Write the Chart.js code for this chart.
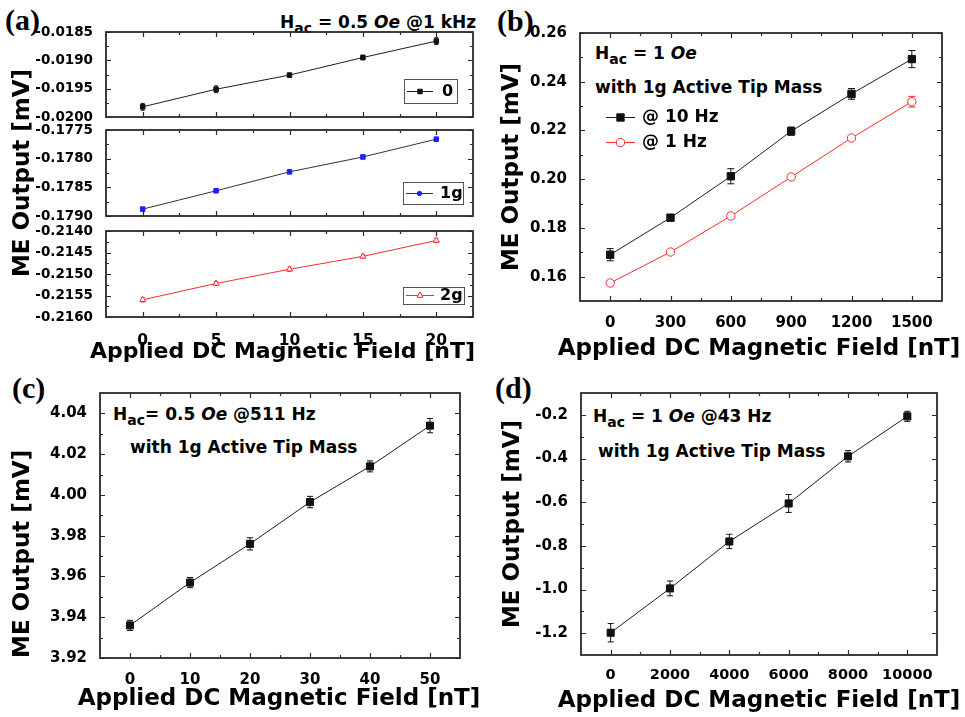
<!DOCTYPE html>
<html><head><meta charset="utf-8">
<script src="https://cdn.jsdelivr.net/npm/chart.js@4.4.1/dist/chart.umd.min.js"></script>
<style>
html,body{margin:0;padding:0;background:#fff;}
body{width:965px;height:717px;overflow:hidden;position:relative;font-family:"DejaVu Sans",sans-serif;}
canvas{position:absolute;left:0;top:0;}
.t{position:absolute;font-weight:bold;font-size:17px;line-height:1;white-space:nowrap;color:#000;}
.t sub{font-size:14px;vertical-align:-5px;line-height:0;}
.p{position:absolute;font-family:"Liberation Serif",serif;font-weight:bold;font-size:30px;line-height:1;color:#000;}
</style></head><body>
<div class="p" style="left:5px;top:5px">(a)</div>
<div class="p" style="left:497px;top:6px">(b)</div>
<div class="p" style="left:12px;top:373px">(c)</div>
<div class="p" style="left:495px;top:373px">(d)</div>
<div class="t" style="left:280px;top:14px">H<sub>ac</sub> = 0.5 <i>Oe</i> @1 kHz</div>
<div class="t" style="left:595px;top:45px">H<sub>ac</sub> = 1 <i>Oe</i></div>
<div class="t" style="left:595px;top:79px">with 1g Active Tip Mass</div>
<div class="t" style="left:113px;top:406px">H<sub>ac</sub>= 0.5 <i>Oe</i> @511 Hz</div>
<div class="t" style="left:130px;top:439px">with 1g Active Tip Mass</div>
<div class="t" style="left:593px;top:408px">H<sub>ac</sub> = 1 <i>Oe</i> @43 Hz</div>
<div class="t" style="left:598px;top:443px">with 1g Active Tip Mass</div>
<script>
// ---------- data ----------
const xA = [0, 5, 10, 15, 20];
const yA0 = [-0.01982, -0.01951, -0.01926, -0.01895, -0.01866];
const errA0 = [0.00006, 0.00006, 0.00003, 0.00004, 0.00006];
const yA1 = [-0.17888, -0.17856, -0.17823, -0.17797, -0.17766];
const errA1 = [0.00003, 0.00003, 0.00003, 0.00003, 0.00003];
const yA2 = [-0.21560, -0.21522, -0.21489, -0.21459, -0.21422];
const errA2 = [0.00005, 0.00005, 0.00005, 0.00004, 0.00005];

const xB = [0, 300, 600, 900, 1200, 1500];
const yB10 = [0.1690, 0.1842, 0.2012, 0.2197, 0.2350, 0.2493];
const errB10 = [0.0025, 0.0012, 0.0031, 0.0017, 0.0022, 0.0035];
const yB1 = [0.1574, 0.1701, 0.1849, 0.2009, 0.2169, 0.2318];
const errB1 = [0.0008, 0.0008, 0.0008, 0.0008, 0.0008, 0.0022];

const xC = [0, 10, 20, 30, 40, 50];
const yC = [3.936, 3.957, 3.976, 3.9965, 4.014, 4.034];
const errC = [0.0025, 0.0025, 0.003, 0.0028, 0.0027, 0.0035];

const xD = [0, 2000, 4000, 6000, 8000, 10000];
const yD = [-1.198, -0.995, -0.780, -0.606, -0.390, -0.207];
const errD = [0.042, 0.034, 0.033, 0.041, 0.026, 0.023];

// tick labels
const xTicksA = [0, 5, 10, 15, 20];
const yTicksA0 = [-0.0200, -0.0195, -0.0190, -0.0185];
const yTicksA1 = [-0.1790, -0.1785, -0.1780, -0.1775];
const yTicksA2 = [-0.2160, -0.2155, -0.2150, -0.2145, -0.2140];
const xTicksB = [0, 300, 600, 900, 1200, 1500];
const yTicksB = [0.16, 0.18, 0.20, 0.22, 0.24, 0.26];
const xTicksC = [0, 10, 20, 30, 40, 50];
const yTicksC = [3.92, 3.94, 3.96, 3.98, 4.00, 4.02, 4.04];
const xTicksD = [0, 2000, 4000, 6000, 8000, 10000];
const yTicksD = [-1.2, -1.0, -0.8, -0.6, -0.4, -0.2];

const legendA0 = ['0'];
const legendA1 = ['1g'];
const legendA2 = ['2g'];
const legendB = ['@ 10 Hz', '@ 1 Hz'];
const xTitle = 'Applied DC Magnetic Field [nT]';
const yTitle = 'ME Output [mV]';

// ---------- helpers ----------
const FONT = 'DejaVu Sans';
const BLACK = '#1e1e1e', RED = '#ff2a2a', BLUE = '#1e1eff';

function pts(xs, ys) { return xs.map((x, i) => ({ x: x, y: ys[i] })); }

function drawMarker(ctx, style, x, y, r, fill, stroke) {
  ctx.save();
  ctx.fillStyle = fill; ctx.strokeStyle = stroke; ctx.lineWidth = 1;
  ctx.beginPath();
  if (style === 'rect') {
    const s = r * Math.SQRT1_2;
    ctx.rect(x - s, y - s, 2 * s, 2 * s);
  } else if (style === 'triangle') {
    ctx.moveTo(x, y - r);
    ctx.lineTo(x + r * 0.866, y + r * 0.5);
    ctx.lineTo(x - r * 0.866, y + r * 0.5);
    ctx.closePath();
  } else {
    ctx.arc(x, y, r, 0, Math.PI * 2);
  }
  ctx.fill(); ctx.stroke();
  ctx.restore();
}

const errorBarPlugin = {
  id: 'errorBars',
  beforeDatasetsDraw(chart) {
    const ctx = chart.ctx, ys = chart.scales.y;
    chart.data.datasets.forEach((ds, i) => {
      if (!ds.errors) return;
      const meta = chart.getDatasetMeta(i);
      const c = ds.capHalf || 3;
      ctx.save();
      ctx.strokeStyle = ds.pointBorderColor; ctx.lineWidth = 1;
      ctx.beginPath();
      meta.data.forEach((pt, j) => {
        const v = ds.data[j].y, e = ds.errors[j];
        const y1 = ys.getPixelForValue(v + e), y2 = ys.getPixelForValue(v - e);
        const x = pt.x;
        ctx.moveTo(x, y1); ctx.lineTo(x, y2);
        ctx.moveTo(x - c, y1); ctx.lineTo(x + c, y1);
        ctx.moveTo(x - c, y2); ctx.lineTo(x + c, y2);
      });
      ctx.stroke();
      ctx.restore();
    });
  }
};

function minorVals(scale) {
  const t = scale.ticks.map(o => o.value);
  const step = t[1] - t[0];
  const out = [];
  for (let k = -1; k < t.length; k++) {
    const v = t[0] + step * (k + 0.5);
    if (v > scale.min + 1e-12 && v < scale.max - 1e-12) out.push(v);
  }
  return out;
}

const framePlugin = {
  id: 'frame',
  afterDraw(chart) {
    const ctx = chart.ctx, ca = chart.chartArea;
    const xs = chart.scales.x, ys = chart.scales.y;
    ctx.save();
    ctx.strokeStyle = '#2a2a2a';
    ctx.lineWidth = 1.2;
    ctx.beginPath();
    const maj = 5, mn = 3;
    xs.ticks.forEach(t => {
      const p = Math.round(xs.getPixelForValue(t.value)) + 0.5;
      ctx.moveTo(p, ca.bottom); ctx.lineTo(p, ca.bottom - maj);
      ctx.moveTo(p, ca.top); ctx.lineTo(p, ca.top + maj);
    });
    minorVals(xs).forEach(v => {
      const p = Math.round(xs.getPixelForValue(v)) + 0.5;
      ctx.moveTo(p, ca.bottom); ctx.lineTo(p, ca.bottom - mn);
      ctx.moveTo(p, ca.top); ctx.lineTo(p, ca.top + mn);
    });
    ys.ticks.forEach(t => {
      const p = Math.round(ys.getPixelForValue(t.value)) + 0.5;
      ctx.moveTo(ca.left, p); ctx.lineTo(ca.left + maj, p);
      ctx.moveTo(ca.right, p); ctx.lineTo(ca.right - maj, p);
    });
    minorVals(ys).forEach(v => {
      const p = Math.round(ys.getPixelForValue(v)) + 0.5;
      ctx.moveTo(ca.left, p); ctx.lineTo(ca.left + mn, p);
      ctx.moveTo(ca.right, p); ctx.lineTo(ca.right - mn, p);
    });
    ctx.stroke();
    ctx.lineWidth = 1.8;
    ctx.strokeRect(ca.left, ca.top, ca.right - ca.left, ca.bottom - ca.top);
    ctx.restore();
  }
};

// x-axis title drawn without the width limit Chart.js applies to horizontal titles
const xTitlePlugin = {
  id: 'xTitleFree',
  afterDraw(chart, args, opts) {
    if (!opts || !opts.text) return;
    const ctx = chart.ctx, ca = chart.chartArea;
    ctx.save();
    ctx.fillStyle = '#000';
    ctx.font = 'bold ' + opts.size + 'px "' + FONT + '"';
    ctx.textAlign = 'center'; ctx.textBaseline = 'middle';
    ctx.fillText(opts.text, (ca.left + ca.right) / 2 + (opts.dx || 0), opts.y);
    ctx.restore();
  }
};

const legendPlugin = {
  id: 'boxLegend',
  afterDraw(chart, args, opts) {
    if (!opts || !opts.items) return;
    const ctx = chart.ctx;
    ctx.save();
    if (opts.box) {
      ctx.strokeStyle = '#555'; ctx.lineWidth = 1;
      ctx.strokeRect(opts.box[0] + 0.5, opts.box[1] + 0.5, opts.box[2], opts.box[3]);
    }
    opts.items.forEach(it => {
      const ds = chart.data.datasets[it.ds];
      ctx.strokeStyle = ds.borderColor; ctx.lineWidth = 1;
      ctx.beginPath(); ctx.moveTo(it.x0, it.y + 0.5); ctx.lineTo(it.x1, it.y + 0.5); ctx.stroke();
      drawMarker(ctx, it.style || ds.pointStyle, (it.x0 + it.x1) / 2, it.y + 0.5,
        it.r || ds.pointRadius, ds.pointBackgroundColor, ds.pointBorderColor);
      ctx.fillStyle = '#000';
      ctx.font = 'bold ' + opts.size + 'px "' + FONT + '"';
      ctx.textBaseline = 'middle'; ctx.textAlign = 'left';
      ctx.fillText(it.text, it.tx, it.y + 1);
    });
    ctx.restore();
  }
};

// area: [left, top, right, bottom]; yTitleCX / xTitleCY optional
function makeChart(o) {
  const cv = document.createElement('canvas');
  cv.width = 965; cv.height = 717;
  document.body.appendChild(cv);
  const TY = 23, TX = o.xTitleSize || 23;
  const [L, T, R, B] = o.area;
  const padLeft = o.yTitleCX ? o.yTitleCX - TY / 2 : L - 90;
  const wY = L - padLeft;
  const hX = o.xTitleCY ? o.xTitleCY + TX / 2 - B : 0;
  const padBottom = 717 - B - hX;
  return new Chart(cv.getContext('2d'), {
    type: 'scatter',
    data: { datasets: o.datasets },
    plugins: [errorBarPlugin, framePlugin, legendPlugin, xTitlePlugin],
    options: {
      responsive: false, animation: false,
      layout: { padding: { left: padLeft, right: 965 - R, top: T, bottom: padBottom } },
      plugins: {
        legend: { display: false }, tooltip: { enabled: false }, boxLegend: o.legend || {},
        xTitleFree: o.xTitleCY ? { text: xTitle, size: TX, y: o.xTitleCY, dx: o.xTitleDX || 0 } : {}
      },
      scales: {
        x: {
          type: 'linear', position: 'bottom', min: o.xr[0], max: o.xr[1],
          afterBuildTicks: s => { s.ticks = o.xt.map(v => ({ value: v })); },
          afterFit: s => { s.height = hX; },
          grid: { display: false }, border: { display: false },
          ticks: { display: !!o.xLabels, padding: o.xPad || 5, color: '#000', autoSkip: false, maxRotation: 0,
            font: { family: FONT, weight: 'bold', size: o.xFont || 15 }, callback: v => String(v) },
          title: { display: false }
        },
        y: {
          type: 'linear', position: 'left', min: o.yr[0], max: o.yr[1],
          afterBuildTicks: s => { s.ticks = o.yt.map(v => ({ value: v })); },
          afterFit: s => { s.width = wY; },
          grid: { display: false }, border: { display: false },
          ticks: { padding: 5, color: '#000', autoSkip: false,
            font: { family: FONT, weight: 'bold', size: o.yFont || 15 }, callback: v => Number(v).toFixed(o.yDec) },
          title: { display: !!o.yTitleCX, text: yTitle, color: '#000', padding: 0, align: o.yAlign || 'center',
            font: { family: FONT, weight: 'bold', size: TY, lineHeight: 1 } }
        }
      }
    }
  });
}

// ---------- panel (a) ----------
makeChart({
  area: [106, 32, 473, 117], xr: [-2.5, 22.5], yr: [-0.0200, -0.0185], xt: xTicksA, yt: yTicksA0,
  yDec: 4, yFont: 13.5,
  datasets: [{ data: pts(xA, yA0), errors: errA0, capHalf: 2, showLine: true, borderColor: BLACK, borderWidth: 1,
    pointStyle: 'rect', pointRadius: 3.2, pointBackgroundColor: '#111', pointBorderColor: '#111' }],
  legend: { box: [404, 79, 53, 24], size: 16,
    items: [{ ds: 0, x0: 407, x1: 433, y: 91, tx: 442, text: legendA0[0] }] }
});
makeChart({
  area: [106, 130, 473, 216], xr: [-2.5, 22.5], yr: [-0.1790, -0.1775], xt: xTicksA, yt: yTicksA1,
  yDec: 4, yFont: 13.5, yTitleCX: 23,
  datasets: [{ data: pts(xA, yA1), errors: errA1, capHalf: 2, showLine: true, borderColor: '#333', borderWidth: 1,
    pointStyle: 'rect', pointRadius: 3.2, pointBackgroundColor: BLUE, pointBorderColor: BLUE }],
  legend: { box: [403, 182, 60, 22], size: 16,
    items: [{ ds: 0, x0: 406, x1: 433, y: 193, tx: 440, text: legendA1[0], style: 'circle', r: 2.2 }] }
});
makeChart({
  area: [106, 231, 473, 317], xr: [-2.5, 22.5], yr: [-0.2160, -0.2140], xt: xTicksA, yt: yTicksA2,
  yDec: 4, yFont: 13.5, xLabels: true, xFont: 15.5, xPad: 7, xTitleCY: 352, xTitleSize: 22, xTitleDX: -7,
  datasets: [{ data: pts(xA, yA2), errors: errA2, capHalf: 2, showLine: true, borderColor: RED, borderWidth: 1,
    pointStyle: 'triangle', pointRadius: 3.5, pointBackgroundColor: '#fff', pointBorderColor: RED }],
  legend: { box: [403, 287, 61, 17], size: 16,
    items: [{ ds: 0, x0: 406, x1: 434, y: 295, tx: 440, text: legendA2[0] }] }
});

// ---------- panel (b) ----------
makeChart({
  area: [580, 33, 942, 301], xr: [-150, 1650], yr: [0.15, 0.26], xt: xTicksB, yt: yTicksB,
  yDec: 2, xLabels: true, yTitleCX: 512, xTitleCY: 349, xTitleDX: -2,
  datasets: [
    { data: pts(xB, yB10), errors: errB10, capHalf: 3.5, showLine: true, borderColor: BLACK, borderWidth: 1,
      pointStyle: 'rect', pointRadius: 5.2, pointBackgroundColor: '#111', pointBorderColor: '#111' },
    { data: pts(xB, yB1), errors: errB1, capHalf: 3.5, showLine: true, borderColor: RED, borderWidth: 1,
      pointStyle: 'circle', pointRadius: 4.2, pointBackgroundColor: '#fff', pointBorderColor: RED }
  ],
  legend: { size: 17,
    items: [{ ds: 0, x0: 606, x1: 635, y: 117, tx: 642, text: legendB[0] },
            { ds: 1, x0: 606, x1: 635, y: 142, tx: 642, text: legendB[1] }] }
});

// ---------- panel (c) ----------
makeChart({
  area: [100, 393, 460, 658], xr: [-5, 55], yr: [3.92, 4.05], xt: xTicksC, yt: yTicksC,
  yDec: 2, xLabels: true, yTitleCX: 23.5, xTitleCY: 699, xTitleDX: -1, yAlign: 'start',
  datasets: [{ data: pts(xC, yC), errors: errC, capHalf: 3, showLine: true, borderColor: BLACK, borderWidth: 1,
    pointStyle: 'rect', pointRadius: 5, pointBackgroundColor: '#111', pointBorderColor: '#111' }]
});

// ---------- panel (d) ----------
makeChart({
  area: [581, 393, 937, 655], xr: [-1000, 11000], yr: [-1.3, -0.1], xt: xTicksD, yt: yTicksD,
  yDec: 1, xLabels: true, xFont: 14.5, xPad: 4, yTitleCX: 513, xTitleCY: 701,
  datasets: [{ data: pts(xD, yD), errors: errD, capHalf: 3, showLine: true, borderColor: BLACK, borderWidth: 1,
    pointStyle: 'rect', pointRadius: 5, pointBackgroundColor: '#111', pointBorderColor: '#111' }]
});
</script>
</body></html>
